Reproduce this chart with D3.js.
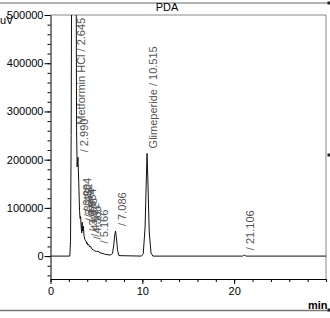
<!DOCTYPE html>
<html>
<head>
<meta charset="utf-8">
<script src="https://cdn.jsdelivr.net/npm/d3@7"></script>
<style>
  body { margin: 0; background: #fff; }
  svg { display: block; font-family: "Liberation Sans", Arial, sans-serif; }
</style>
</head>
<body>
<script>
// chromatogram trace (min, uV)
const traceTimes = [0, 2.1, 2.18, 2.25, 2.35, 2.45, 2.55, 2.645, 2.72, 2.78, 2.84, 2.9, 2.99, 3.08, 3.16, 3.22, 3.28, 3.34, 3.4, 3.45, 3.5, 3.58, 3.65, 3.75, 3.88, 3.93, 3.98, 4.06, 4.17, 4.26, 4.37, 4.5, 4.8, 5.0, 5.17, 5.4, 5.9, 6.5, 6.75, 6.9, 7.0, 7.086, 7.18, 7.3, 7.45, 9.9, 10.1, 10.3, 10.45, 10.515, 10.6, 10.75, 10.95, 11.15, 20.9, 21.0, 21.106, 21.2, 21.3, 30];
const traceValues = [0, 0, 30000, 250000, 900000, 1600000, 2100000, 2300000, 1500000, 700000, 260000, 185000, 205000, 150000, 95000, 78000, 82000, 60000, 48000, 70000, 52000, 62000, 42000, 34000, 31000, 26000, 28000, 23000, 24000, 19000, 20000, 15000, 11000, 9500, 10000, 7000, 4000, 2000, 5000, 25000, 45000, 52000, 38000, 12000, 1000, 0, 5000, 60000, 170000, 213000, 160000, 50000, 6000, 0, 0, 1200, 2000, 1200, 0, 0];

// peak labels
const peakTimes = [2.645, 2.99, 3.284, 3.452, 3.579, 3.884, 3.978, 4.172, 4.366, 5.166, 7.086, 10.515, 21.106];
const peakLabelAt = [262000, 205000, 82000, 70000, 62000, 60000, 40000, 30000, 24000, 16000, 52000, 213000, 2000];
const peakTexts = ["Metformin HCl / 2.645", "/ 2.990", "/ 3.284", "/ 3.452", "/ 3.579", "/ 3.884", "/ 3.978", "/ 4.172", "/ 4.366", "/ 5.166", "/ 7.086", "Glimeperide / 10.515", "/ 21.106"];

const yMajor = [0, 100000, 200000, 300000, 400000, 500000];
const yMinor = d3.range(-40000, 500001, 20000);
const xMajor = [0, 10, 20];
const xMinor = d3.range(0, 31, 2);

const W = 330, H = 318;
const plot = { left: 50.5, right: 326, top: 15, bottom: 279 };

const svg = d3.select("body").append("svg")
  .attr("width", W).attr("height", H);

const x = d3.scaleLinear().domain([0, 30]).range([plot.left, plot.right]);
const y = d3.scaleLinear().domain([-47500, 500000]).range([plot.bottom, plot.top]);

// window frame lines
svg.append("line").attr("x1", 0).attr("x2", W).attr("y1", 3).attr("y2", 3)
  .attr("stroke", "#666").attr("stroke-width", 1.2);
svg.append("line").attr("x1", 0).attr("x2", W).attr("y1", 310.5).attr("y2", 310.5)
  .attr("stroke", "#777").attr("stroke-width", 1.5);
[3, 155, 310].forEach(v => {
  svg.append("rect").attr("x", 327.5).attr("y", v - 1.5).attr("width", 2.5).attr("height", 3).attr("fill", "#222");
});

// plot frame (top and right)
svg.append("path")
  .attr("d", `M${plot.left},${plot.top}H${plot.right}V${plot.bottom}`)
  .attr("fill", "none").attr("stroke", "#888").attr("stroke-width", 1);

svg.append("text").attr("x", 167).attr("y", 11).attr("text-anchor", "middle")
  .attr("font-size", 11).text("PDA");

// axes
const yAxisMinor = svg.append("g").attr("transform", `translate(${plot.left},0)`)
  .call(d3.axisLeft(y).tickValues(yMinor).tickSize(3).tickFormat(""));
yAxisMinor.select(".domain").remove();

const yAxis = svg.append("g").attr("transform", `translate(${plot.left},0)`)
  .call(d3.axisLeft(y).tickValues(yMajor).tickSize(6).tickSizeOuter(0).tickPadding(1)
    .tickFormat(d3.format("d")));

const xAxisMinor = svg.append("g").attr("transform", `translate(0,${plot.bottom})`)
  .call(d3.axisBottom(x).tickValues(xMinor).tickSize(3).tickFormat(""));
xAxisMinor.select(".domain").remove();

const xAxis = svg.append("g").attr("transform", `translate(0,${plot.bottom})`)
  .call(d3.axisBottom(x).tickValues(xMajor).tickSize(5).tickSizeOuter(0).tickPadding(3));

svg.selectAll(".tick text").attr("font-size", 11).attr("font-family", "Liberation Sans, Arial, sans-serif").attr("fill", "#000");
svg.selectAll(".domain, .tick line").attr("stroke", "#000");

svg.append("text").attr("x", 0).attr("y", 24).attr("font-size", 11).text("uV");
svg.append("text").attr("x", 308).attr("y", 309).attr("font-size", 11)
  .attr("font-weight", "bold").text("min");

// trace
svg.append("clipPath").attr("id", "clip").append("rect")
  .attr("x", plot.left).attr("y", plot.top)
  .attr("width", plot.right - plot.left).attr("height", plot.bottom - plot.top);

const points = traceTimes.map((t, i) => [t, traceValues[i]]);
const line = d3.line().x(d => x(d[0])).y(d => y(d[1]));

svg.append("path").datum(points)
  .attr("clip-path", "url(#clip)")
  .attr("d", line)
  .attr("fill", "none").attr("stroke", "#111").attr("stroke-width", 1);

// peak labels
svg.append("g").selectAll("text")
  .data(peakTimes)
  .enter().append("text")
  .attr("transform", (t, i) => `translate(${x(t) + 10},${y(peakLabelAt[i]) - 5}) rotate(-90)`)
  .attr("font-size", 11)
  .attr("fill", "#555")
  .text((t, i) => peakTexts[i]);
</script>
</body>
</html>
